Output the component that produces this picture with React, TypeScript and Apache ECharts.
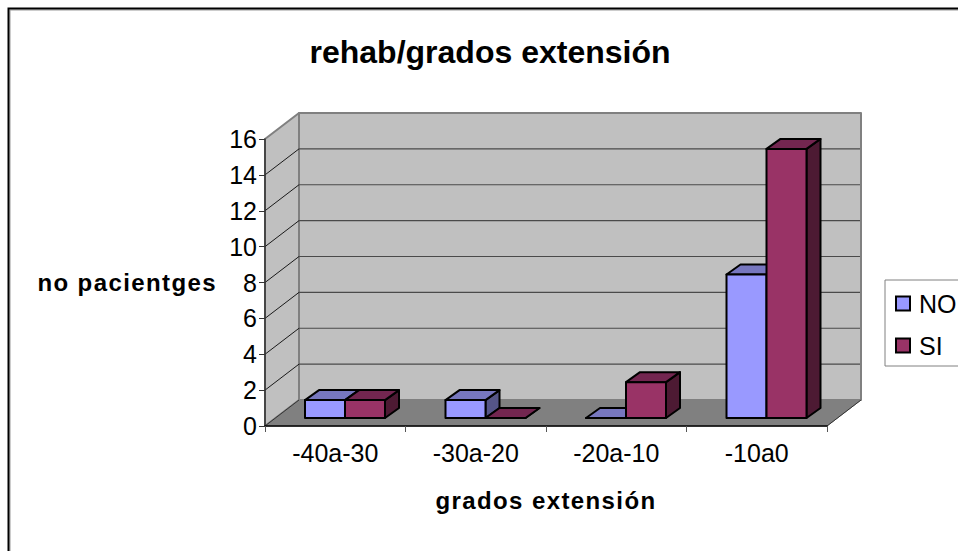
import React, { useEffect, useRef } from "react";
import * as echarts from "echarts";

const categories = ["-40a-30", "-30a-20", "-20a-10", "-10a0"];
const noValues = [1, 1, 0, 8];
const siValues = [1, 0, 2, 15];
const yMax = 16;
const yStep = 2;
const yTicks = [0, 2, 4, 6, 8, 10, 12, 14, 16];
const yName = "no pacientges";
const xName = "grados extensión";

const FONT = '"Liberation Sans", Arial, sans-serif';
const wallDepth = { x: 34, y: -26 };
const barDepth = { x: 14, y: -10 };
const barInset = { x: 9.75, y: -8 };
const barRatio = 40 / 140.5;

const palette = {
  NO: { front: "#9999FF", top: "#7777BF", side: "#555588" },
  SI: { front: "#993366", top: "#732650", side: "#4D1A33" },
};

function poly(points: number[][], fill: string, stroke: string, lineWidth: number) {
  return { type: "polygon", shape: { points }, style: { fill, stroke, lineWidth, lineJoin: "round" } };
}
function seg(a: number[], b: number[], stroke: string, lineWidth: number) {
  return { type: "line", shape: { x1: a[0], y1: a[1], x2: b[0], y2: b[1] }, style: { stroke, lineWidth } };
}

function renderWalls(_: any, api: any) {
  const bw = api.size([1, 0])[0];
  const l = api.coord([0, 0])[0] - bw / 2;
  const r = api.coord([categories.length - 1, 0])[0] + bw / 2;
  const b = api.coord([0, 0])[1];
  const t = api.coord([0, yMax])[1];
  const dx = wallDepth.x;
  const dy = wallDepth.y;
  const children: any[] = [
    poly([[l + dx, t + dy], [r + dx, t + dy], [r + dx, b + dy], [l + dx, b + dy]], "#C0C0C0", "#808080", 2),
    poly([[l, t], [l + dx, t + dy], [l + dx, b + dy], [l, b]], "#C0C0C0", "#808080", 2),
    poly([[l, b], [l + dx, b + dy], [r + dx, b + dy], [r, b]], "#808080", "#808080", 1),
  ];
  yTicks.slice(1, -1).forEach((v) => {
    const y = api.coord([0, v])[1];
    children.push(seg([l + dx, y + dy], [r + dx - 1, y + dy], "#4A4A4A", 1.2));
    children.push(seg([l, y], [l + dx, y + dy], "#1A1A1A", 1));
  });
  children.push(seg([l, b], [l + dx, b + dy], "#333333", 1));
  children.push(seg([r, b], [r + dx, b + dy], "#333333", 1));
  return { type: "group", children };
}

function makeBarRenderer(key: "NO" | "SI") {
  return (_: any, api: any) => {
    const c = palette[key];
    const bw = api.size([1, 0])[0];
    const w = bw * barRatio;
    const p = api.coord([api.value(0), api.value(1)]);
    const base = api.coord([api.value(0), 0]);
    const mid = p[0] + barInset.x;
    const x0 = key === "NO" ? mid - w : mid;
    const x1 = x0 + w;
    const yb = base[1] + barInset.y;
    const yt = p[1] + barInset.y;
    const dx = barDepth.x;
    const dy = barDepth.y;
    return {
      type: "group",
      children: [
        poly([[x1, yt], [x1 + dx, yt + dy], [x1 + dx, yb + dy], [x1, yb]], c.side, "#000", 2),
        poly([[x0, yt], [x0 + dx, yt + dy], [x1 + dx, yt + dy], [x1, yt]], c.top, "#000", 2),
        poly([[x0, yt], [x1, yt], [x1, yb], [x0, yb]], c.front, "#000", 2),
      ],
    };
  };
}

export default function App() {
  const ref = useRef<HTMLDivElement>(null);
  useEffect(() => {
    document.body.style.margin = "0";
    const chart = echarts.init(ref.current!, null, { renderer: "svg" });
    const toData = (vals: number[]) => vals.map((v, i) => [i, v]);
    chart.setOption({
      animation: false,
      backgroundColor: "#FFFFFF",
      title: {
        text: "rehab/grados extensión",
        left: 485,
        top: 31,
        textAlign: "center",
        textStyle: { fontFamily: FONT, fontSize: 32, fontWeight: "bold", color: "#000" },
      },
      grid: { left: 265, right: 131, top: 139, bottom: 125, outerBoundsMode: "none" },
      legend: {
        left: 885,
        top: 280,
        orient: "vertical",
        data: ["NO", "SI"],
        icon: "rect",
        itemWidth: 14,
        itemHeight: 14,
        itemGap: 17,
        padding: [11, 40, 8, 10],
        backgroundColor: "#FFFFFF",
        borderColor: "#808080",
        borderWidth: 1,
        borderRadius: 0,
        itemStyle: { borderColor: "#000", borderWidth: 2 },
        textStyle: { fontFamily: FONT, fontSize: 25, color: "#000", padding: [0, 0, 5, 4] },
      },
      xAxis: {
        type: "category",
        data: categories,
        z: 10,
        name: xName,
        nameLocation: "middle",
        nameGap: 62,
        nameTextStyle: { fontFamily: FONT, fontSize: 24, fontWeight: "bold", color: "#000" },
        axisLine: { lineStyle: { color: "#000", width: 1.5 } },
        axisTick: { show: true, length: 6, lineStyle: { color: "#555", width: 1 } },
        axisLabel: { fontFamily: FONT, fontSize: 25, color: "#000", margin: 14 },
        splitLine: { show: false },
      },
      yAxis: {
        type: "value",
        min: 0,
        max: yMax,
        interval: yStep,
        z: 10,
        name: yName,
        nameLocation: "middle",
        nameRotate: 0,
        nameGap: 48,
        nameTextStyle: { fontFamily: FONT, fontSize: 24, fontWeight: "bold", color: "#000" },
        axisLine: { show: true, lineStyle: { color: "#333", width: 1.5 } },
        axisTick: { show: true, length: 6, lineStyle: { color: "#333", width: 1 } },
        axisLabel: { fontFamily: FONT, fontSize: 25, color: "#000", margin: 8 },
        splitLine: { show: false },
      },
      graphic: [
        { type: "polyline", z: 100, shape: { points: [[10, 551], [10, 10], [958, 10]] }, style: { fill: "none", stroke: "#9A9A9A", lineWidth: 1 } },
        { type: "polyline", z: 101, shape: { points: [[8.5, 551], [8.5, 8.5], [958, 8.5]] }, style: { fill: "none", stroke: "#000", lineWidth: 2 } },
      ],
      series: [
        { type: "custom", name: "walls", z: 1, silent: true, clip: false, renderItem: renderWalls, data: [[0, 0]], encode: { x: 0, y: 1 } },
        { type: "custom", name: "NO", z: 3, clip: false, renderItem: makeBarRenderer("NO"), data: toData(noValues), encode: { x: 0, y: 1 }, itemStyle: { color: palette.NO.front } },
        { type: "custom", name: "SI", z: 4, clip: false, renderItem: makeBarRenderer("SI"), data: toData(siValues), encode: { x: 0, y: 1 }, itemStyle: { color: palette.SI.front } },
      ],
    });
    ref.current!.querySelectorAll("text").forEach((t) => {
      if (t.textContent === yName || t.textContent === xName) (t as SVGTextElement).style.letterSpacing = "1.4px";
    });
    return () => chart.dispose();
  }, []);
  return <div ref={ref} style={{ position: "fixed", left: 0, top: 0, width: 958, height: 551 }} />;
}
